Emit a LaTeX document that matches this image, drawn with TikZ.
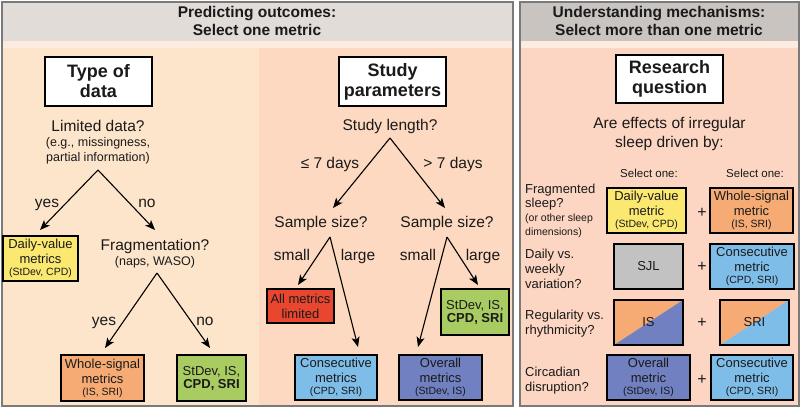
\documentclass[tikz,border=0pt]{standalone}
\usepackage{fontspec}
\setmainfont{Liberation Sans}
\usetikzlibrary{arrows.meta}
\definecolor{hdrL}{HTML}{E2DCD8}
\definecolor{hdrR}{HTML}{CAC4C1}
\definecolor{stripc}{HTML}{FDEBDF}
\definecolor{bgA}{HTML}{FDE5CB}
\definecolor{bgB}{HTML}{FCD9C0}
\definecolor{bgC}{HTML}{FCD6C2}
\definecolor{framec}{HTML}{7A7A7A}
\definecolor{txt}{HTML}{1A1A1A}
\definecolor{yel}{HTML}{FBE870}
\definecolor{orM}{HTML}{F6AB74}
\definecolor{grn}{HTML}{A8CB62}
\definecolor{redM}{HTML}{E8462F}
\definecolor{lblu}{HTML}{7FBDE9}
\definecolor{purp}{HTML}{7080C0}
\definecolor{gryM}{HTML}{C2C2C2}
\newcommand{\smtxt}[1]{{\fontsize{10.5}{12}\selectfont #1}}
\begin{document}
\begin{tikzpicture}[x=1pt,y=-1pt,
  frame/.style={draw=framec, line width=2pt},
  hdr/.style={anchor=base, inner sep=0pt, text=txt, font=\bfseries\fontsize{15.5}{18}\selectfont},
  tbox/.style={draw=black, fill=white, line width=1.4pt, inner sep=0pt, align=center, text=txt, font=\bfseries\fontsize{18}{20}\selectfont},
  mbox/.style={draw=black, line width=1.1pt, inner sep=0pt, align=center, text=txt, font=\fontsize{13}{15}\selectfont},
  qtxt/.style={anchor=base, inner sep=0pt, text=txt, font=\fontsize{15.5}{18}\selectfont},
  subtxt/.style={anchor=base, inner sep=0pt, text=txt, font=\fontsize{12.5}{14}\selectfont},
  seltxt/.style={anchor=base, inner sep=0pt, text=txt, font=\fontsize{11.5}{13}\selectfont},
  rowl/.style={anchor=base west, inner sep=0pt, text=txt, font=\fontsize{13}{15}\selectfont},
  rows/.style={anchor=base west, inner sep=0pt, text=txt, font=\fontsize{10.5}{12}\selectfont},
  plus/.style={inner sep=0pt, text=txt, font=\fontsize{16}{18}\selectfont},
  arr/.style={draw=black, line width=1.1pt, -{Stealth[length=10pt,width=8pt,inset=2.5pt]}},
  split/.style 2 args={path picture={
     \fill[#1] (path picture bounding box.south west) -- (path picture bounding box.north west) -- (path picture bounding box.north east) -- cycle;
     \fill[#2] (path picture bounding box.south west) -- (path picture bounding box.south east) -- (path picture bounding box.north east) -- cycle;}}
]
\useasboundingbox (0,0) rectangle (800,408);
% ---------- backgrounds ----------
\fill[hdrL] (1.5,1.5) rectangle (513,41);
\fill[stripc] (1.5,41) rectangle (513,47.5);
\fill[bgA] (1.5,47.5) rectangle (259,406);
\fill[bgB] (259,47.5) rectangle (513,406);
\draw[frame] (1.5,1.5) rectangle (513,406);
\fill[hdrR] (519.5,1.5) rectangle (798.5,41);
\fill[stripc] (519.5,41) rectangle (798.5,47.5);
\fill[bgC] (519.5,47.5) rectangle (798.5,406);
\draw[frame] (519.5,1.5) rectangle (798.5,406);
% ---------- headers ----------
\node[hdr] (hL1) at (257,17) {Predicting outcomes:};
\node[hdr] (hL2) at (257,35) {Select one metric};
\node[hdr] (hR1) at (659,17) {Understanding mechanisms:};
\node[hdr] (hR2) at (659,35) {Select more than one metric};
% ---------- Type of data ----------
\node[tbox, minimum width=107pt, minimum height=49pt] (t1) at (98.5,81.5) {Type of\\data};
\node[qtxt] (q1) at (98,131) {Limited data?};
\node[subtxt] (q1a) at (98,146) {(e.g., missingness,};
\node[subtxt] (q1b) at (98,161) {partial information)};
\coordinate (a1) at (98,170);
\coordinate (e1) at (40,230);
\coordinate (e2) at (155,230);
\draw[arr] (a1) -- (e1);
\draw[arr] (a1) -- (e2);
\node[qtxt] (l1) at (47,207) {yes};
\node[qtxt] (l2) at (147,207) {no};
\node[mbox, fill=yel, minimum width=75pt, minimum height=45pt] (dv) at (40.5,258.5) {Daily-value\\metrics\\[-3pt]\smtxt{(StDev, CPD)}};
\node[qtxt] (q2) at (155,250) {Fragmentation?};
\node[subtxt] (q2a) at (155,265) {(naps, WASO)};
\coordinate (a2) at (157,273);
\coordinate (e3) at (105,348);
\coordinate (e4) at (210,348);
\draw[arr] (a2) -- (e3);
\draw[arr] (a2) -- (e4);
\node[qtxt] (l3) at (104,325) {yes};
\node[qtxt] (l4) at (205,325) {no};
\node[mbox, fill=orM, minimum width=83pt, minimum height=46pt] (ws) at (102.5,378) {Whole-signal\\metrics\\[-3pt]\smtxt{(IS, SRI)}};
\node[mbox, fill=grn, minimum width=69pt, minimum height=46pt] (g1) at (211.5,378) {StDev, IS,\\[-2pt]\textbf{CPD, SRI}};
% ---------- Study parameters ----------
\node[tbox, minimum width=107pt, minimum height=49pt] (t2) at (392.5,81.5) {Study\\parameters};
\node[qtxt] (q3) at (390,130) {Study length?};
\coordinate (a3) at (390,138);
\coordinate (e5) at (333,208);
\coordinate (e6) at (445,208);
\draw[arr] (a3) -- (e5);
\draw[arr] (a3) -- (e6);
\node[qtxt] (l5) at (330,168) {≤ 7 days};
\node[qtxt] (l6) at (453,168) {> 7 days};
\node[qtxt] (q4) at (321,227) {Sample size?};
\node[qtxt] (q5) at (447,227) {Sample size?};
\coordinate (a4) at (330,237);
\coordinate (a5) at (447,237);
\coordinate (e7) at (298,285);
\coordinate (e8) at (358,347);
\coordinate (e9) at (418,347);
\coordinate (e10) at (478,285);
\draw[arr] (a4) -- (e7);
\draw[arr] (a4) -- (e8);
\draw[arr] (a5) -- (e9);
\draw[arr] (a5) -- (e10);
\node[qtxt] (l7) at (292,260) {small};
\node[qtxt] (l8) at (358,260) {large};
\node[qtxt] (l9) at (418,260) {small};
\node[qtxt] (l10) at (483,260) {large};
\node[mbox, fill=redM, minimum width=67pt, minimum height=34pt] (rd) at (300.5,306) {All metrics\\limited};
\node[mbox, fill=grn, minimum width=68pt, minimum height=46pt] (g2) at (475,312) {StDev, IS,\\[-2pt]\textbf{CPD, SRI}};
\node[mbox, fill=lblu, minimum width=82pt, minimum height=45pt] (cs) at (336,377.5) {Consecutive\\metrics\\[-3pt]\smtxt{(CPD, SRI)}};
\node[mbox, fill=purp, minimum width=83pt, minimum height=45pt] (ov) at (440.5,377.5) {Overall\\metrics\\[-3pt]\smtxt{(StDev, IS)}};
% ---------- Research question ----------
\node[tbox, minimum width=107pt, minimum height=48pt] (t3) at (669.5,79) {Research\\question};
\node[qtxt] (q6) at (669.5,128) {Are effects of irregular};
\node[qtxt] (q6a) at (669.5,147) {sleep driven by:};
\node[seltxt] (s1) at (649,177) {Select one:};
\node[seltxt] (s2) at (755,177) {Select one:};
% row 1
\node[rowl] (r1l1) at (525,193) {Fragmented};
\node[rowl] (r1l2) at (525,207) {sleep?};
\node[rows] (r1l3) at (525,221) {(or other sleep};
\node[rows] (r1l4) at (525,235) {dimensions)};
\node[mbox, fill=yel, minimum width=79pt, minimum height=45pt] (r1a) at (646.5,210.5) {Daily-value\\metric\\[-3pt]\smtxt{(StDev, CPD)}};
\node[plus] (p1) at (702,213) {+};
\node[mbox, fill=orM, minimum width=83pt, minimum height=45pt] (r1b) at (751.5,210.5) {Whole-signal\\metric\\[-3pt]\smtxt{(IS, SRI)}};
% row 2
\node[rowl] (r2l1) at (525,258) {Daily vs.};
\node[rowl] (r2l2) at (525,273) {weekly};
\node[rowl] (r2l3) at (525,288) {variation?};
\node[mbox, fill=gryM, minimum width=69pt, minimum height=45pt] (r2a) at (648.5,266.5) {SJL};
\node[plus] (p2) at (702,267) {+};
\node[mbox, fill=lblu, minimum width=84pt, minimum height=45pt] (r2b) at (752,266.5) {Consecutive\\metric\\[-3pt]\smtxt{(CPD, SRI)}};
% row 3
\node[rowl] (r3l1) at (525,319) {Regularity vs.};
\node[rowl] (r3l2) at (525,334) {rhythmicity?};
\node[mbox, split={orM}{purp}, minimum width=69pt, minimum height=45pt] (r3a) at (648.5,322.5) {IS};
\node[plus] (p3) at (702,323) {+};
\node[mbox, split={orM}{lblu}, minimum width=69pt, minimum height=45pt] (r3b) at (754.5,322.5) {SRI};
% row 4
\node[rowl] (r4l1) at (525,376) {Circadian};
\node[rowl] (r4l2) at (525,391) {disruption?};
\node[mbox, fill=purp, minimum width=83pt, minimum height=45pt] (r4a) at (648.5,377.5) {Overall\\metric\\[-3pt]\smtxt{(StDev, IS)}};
\node[plus] (p4) at (702,380) {+};
\node[mbox, fill=lblu, minimum width=82pt, minimum height=45pt] (r4b) at (752,377.5) {Consecutive\\metric\\[-3pt]\smtxt{(CPD, SRI)}};
\end{tikzpicture}
\end{document}
